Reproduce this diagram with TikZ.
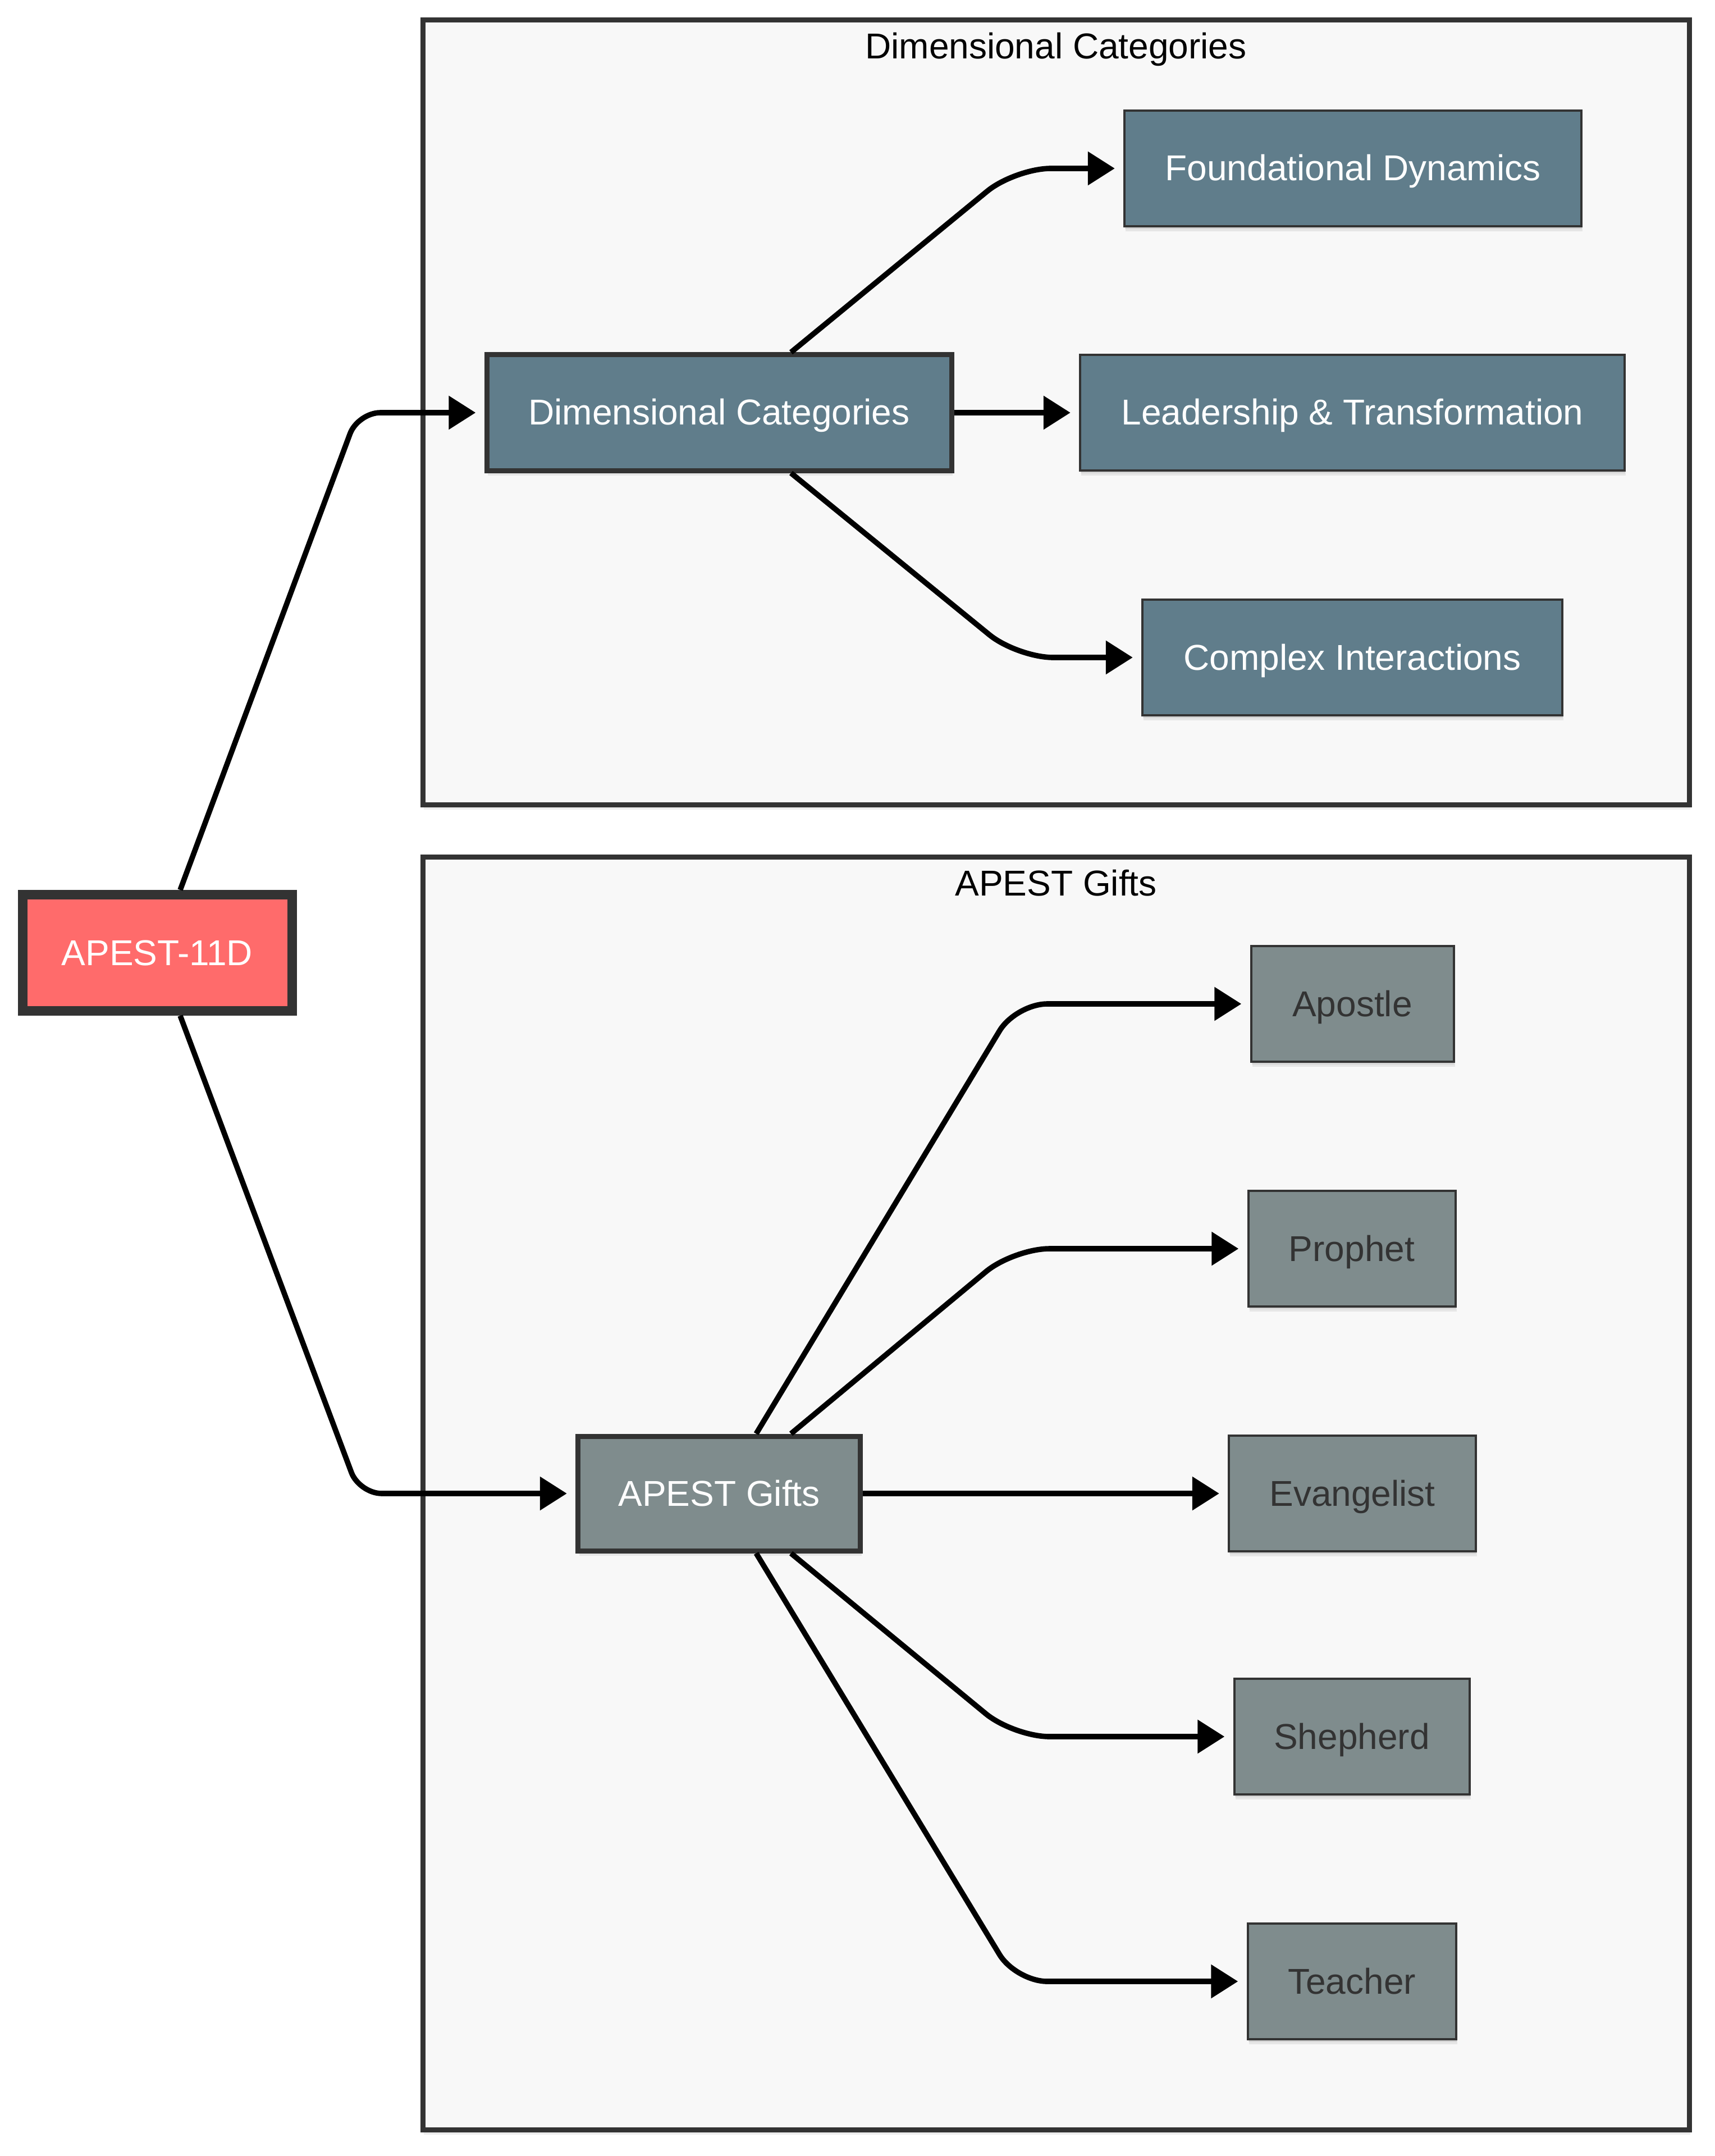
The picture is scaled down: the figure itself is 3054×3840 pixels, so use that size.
\documentclass[tikz,border=0pt]{standalone}
\usepackage{fontspec}
\setmainfont{Liberation Sans}
\usetikzlibrary{arrows.meta,calc,shadows}
\definecolor{redfill}{HTML}{FF6B6B}
\definecolor{dimfill}{HTML}{607D8B}
\definecolor{giftfill}{HTML}{7F8C8D}
\definecolor{bord}{HTML}{333333}
\definecolor{clusterfill}{HTML}{F8F8F8}
\tikzset{
  softshadow/.style={
    drop shadow={shadow xshift=0.6pt, shadow yshift=-2.2pt, opacity=0.07, fill=black},
    drop shadow={shadow xshift=0.3pt, shadow yshift=-1.2pt, opacity=0.07, fill=black}},
  box/.style={rectangle, draw=bord, font=\fontsize{16}{19}\selectfont, inner sep=0pt,
    text height=11.5pt, text depth=0.5pt, minimum height=51.5pt, softshadow},
  rootbox/.style={box, fill=redfill, text=white, line width=4.25pt, minimum height=51.75pt},
  dimhub/.style={box, fill=dimfill, text=white, line width=2.25pt},
  dimleaf/.style={box, fill=dimfill, text=white, line width=1pt},
  gifthub/.style={box, fill=giftfill, text=white, line width=2.25pt},
  giftleaf/.style={box, fill=giftfill, text=bord, line width=1pt},
  cluster/.style={rectangle, draw=bord, fill=clusterfill, line width=2.25pt, inner sep=0pt, softshadow},
  ctitle/.style={font=\fontsize{16}{19}\selectfont, text=black, anchor=base, inner sep=0pt},
  link/.style={draw=black, line width=2.4pt, -{Triangle[length=12pt,width=14.5pt]}, shorten >=3.8pt},
}
\begin{document}
\begin{tikzpicture}[x=0.25pt, y=-0.25pt]
\fill[white] (0,0) rectangle (3054,3840);
\useasboundingbox (0,0) rectangle (3054,3840);

% clusters
\node[cluster, minimum width=564pt, minimum height=349.25pt] (c1) at (1881,734.5) {};
\node[cluster, minimum width=564pt, minimum height=566.75pt] (c2) at (1881,2659.5) {};
\node[ctitle] (c1t) at (1881,105) {Dimensional Categories};
\node[ctitle] (c2t) at (1881,1595) {APEST Gifts};

% nodes
\node[rootbox, minimum width=120pt] (root) at (280,1697) {APEST-11D};
\node[dimhub, minimum width=207pt, minimum height=51.5pt] (dc) at (1281,735) {Dimensional Categories};
\node[dimleaf, minimum width=203.5pt] (fd) at (2410,300) {Foundational Dynamics};
\node[dimleaf, minimum width=242.5pt] (lt) at (2409,735) {Leadership \& Transformation};
\node[dimleaf, minimum width=187pt] (ci) at (2409,1171) {Complex Interactions};
\node[gifthub, minimum width=125.75pt, minimum height=51pt] (ag) at (1281,2660) {APEST Gifts};
\node[giftleaf, minimum width=90.25pt] (ap) at (2409,1788) {Apostle};
\node[giftleaf, minimum width=92.25pt] (pr) at (2408,2224) {Prophet};
\node[giftleaf, minimum width=110pt] (ev) at (2409,2660) {Evangelist};
\node[giftleaf, minimum width=104.75pt] (sh) at (2408,3093) {Shepherd};
\node[giftleaf, minimum width=92.75pt] (te) at (2408,3529) {Teacher};

% connectors
\draw[link, rounded corners=10pt] ($(root.north)+(41,0)$) -- ($(dc.west)+(-225,0)$) -- (dc.west);
\draw[link, rounded corners=10pt] ($(root.south)+(41,0)$) -- ($(ag.west)+(-385,0)$) -- (ag.west);

\draw[link, rounded corners=16pt] ($(dc.north)+(128,0)$) -- ($(fd.west)+(-193,0)$) -- (fd.west);
\draw[link] (dc.east) -- (lt.west);
\draw[link, rounded corners=16pt] ($(dc.south)+(128,0)$) -- ($(ci.west)+(-221,0)$) -- (ci.west);

\draw[link, rounded corners=14pt] ($(ag.north)+(66,0)$) -- ($(ap.west)+(-417,0)$) -- (ap.west);
\draw[link, rounded corners=16pt] ($(ag.north)+(128,0)$) -- ($(pr.west)+(-416,0)$) -- (pr.west);
\draw[link] (ag.east) -- (ev.west);
\draw[link, rounded corners=16pt] ($(ag.south)+(128,0)$) -- ($(sh.west)+(-391,0)$) -- (sh.west);
\draw[link, rounded corners=14pt] ($(ag.south)+(66,0)$) -- ($(te.west)+(-411,0)$) -- (te.west);
\end{tikzpicture}
\end{document}
